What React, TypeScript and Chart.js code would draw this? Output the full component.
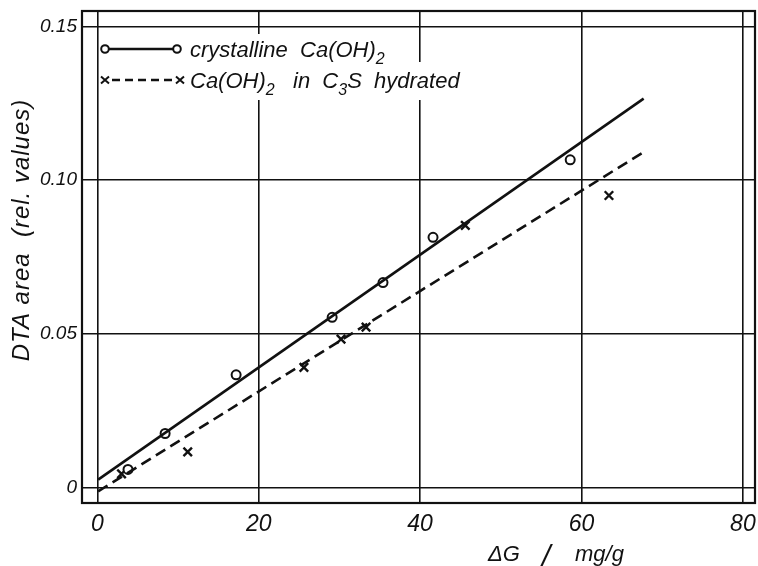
import React, { useEffect, useRef } from "react";
import { Chart, registerables } from "chart.js";
Chart.register(...registerables);

// data
const crystallineX = [3.8, 8.4, 17.2, 29.1, 35.4, 41.6, 58.6];
const crystallineY = [0.0059, 0.0176, 0.0367, 0.0554, 0.0667, 0.0814, 0.1066];
const hydratedX = [3.0, 11.2, 25.6, 30.2, 33.3, 45.6, 63.4];
const hydratedY = [0.0045, 0.0116, 0.0391, 0.0483, 0.0522, 0.0853, 0.095];
const crystallineFitX = [0.1, 67.7];
const crystallineFitY = [0.0026, 0.1265];
const hydratedFitX = [0.1, 67.8];
const hydratedFitY = [-0.0012, 0.1093];
const xTicks = [0, 20, 40, 60, 80];
const xTickLabels = ["0", "20", "40", "60", "80"];
const yTicks = [0, 0.05, 0.1, 0.15];
const yTickLabels = ["0", "0.05", "0.10", "0.15"];

const FONT = "'Liberation Sans', Arial, sans-serif";
const INK = "#111";

type Seg = { t: string; sub?: boolean };

function drawRich(ctx: CanvasRenderingContext2D, segs: Seg[], x: number, y: number, size: number) {
  let cx = x;
  for (const s of segs) {
    if (s.sub) {
      ctx.font = `italic ${Math.round(size * 0.72)}px ${FONT}`;
      ctx.fillText(s.t, cx, y + size * 0.3);
    } else {
      ctx.font = `italic ${size}px ${FONT}`;
      ctx.fillText(s.t, cx, y);
    }
    cx += ctx.measureText(s.t).width;
  }
}

const decor = {
  id: "decor",
  afterDraw(chart: any) {
    const ctx: CanvasRenderingContext2D = chart.ctx;
    const a = chart.chartArea;
    ctx.save();
    // frame
    ctx.strokeStyle = INK;
    ctx.lineWidth = 2.2;
    ctx.strokeRect(a.left, a.top, a.right - a.left, a.bottom - a.top);

    // legend background
    ctx.fillStyle = "#fff";
    ctx.fillRect(100, 34, 302, 28);
    ctx.fillRect(100, 62, 372, 38);

    ctx.fillStyle = INK;
    ctx.strokeStyle = INK;
    // row 1
    const r1 = 49;
    ctx.lineWidth = 2.5;
    ctx.setLineDash([]);
    ctx.beginPath();
    ctx.moveTo(109, r1);
    ctx.lineTo(173, r1);
    ctx.stroke();
    ctx.lineWidth = 2;
    for (const px of [105, 177]) {
      ctx.beginPath();
      ctx.arc(px, r1, 3.8, 0, Math.PI * 2);
      ctx.fillStyle = "#fff";
      ctx.fill();
      ctx.stroke();
    }
    ctx.fillStyle = INK;
    ctx.textBaseline = "alphabetic";
    ctx.textAlign = "left";
    drawRich(ctx, [{ t: "crystalline  Ca(OH)" }, { t: "2", sub: true }], 190, 57, 22);

    // row 2
    const r2 = 80;
    ctx.lineWidth = 2.5;
    ctx.setLineDash([8, 5]);
    ctx.beginPath();
    ctx.moveTo(112, r2);
    ctx.lineTo(174, r2);
    ctx.stroke();
    ctx.setLineDash([]);
    ctx.lineWidth = 2;
    for (const px of [105, 180]) {
      ctx.beginPath();
      ctx.moveTo(px - 4, r2 - 3.5);
      ctx.lineTo(px + 4, r2 + 3.5);
      ctx.moveTo(px + 4, r2 - 3.5);
      ctx.lineTo(px - 4, r2 + 3.5);
      ctx.stroke();
    }
    drawRich(
      ctx,
      [{ t: "Ca(OH)" }, { t: "2", sub: true }, { t: "   in  C" }, { t: "3", sub: true }, { t: "S  hydrated" }],
      190,
      88,
      22
    );

    // x title
    ctx.font = `italic 22px ${FONT}`;
    ctx.fillText("\u0394G", 488, 561);
    ctx.font = `italic 30px ${FONT}`;
    ctx.fillText("/", 542, 566);
    ctx.font = `italic 22px ${FONT}`;
    ctx.fillText("mg/g", 575, 561);

    // y title
    ctx.translate(22, 230);
    ctx.rotate(-Math.PI / 2);
    ctx.textAlign = "center";
    ctx.textBaseline = "middle";
    ctx.font = `italic 24px ${FONT}`;
    try {
      (ctx as any).letterSpacing = "1px";
    } catch (e) {}
    ctx.fillText("DTA area  (rel. values)", 0, 0);
    ctx.restore();
  },
};

export default function App() {
  const ref = useRef<HTMLCanvasElement | null>(null);
  useEffect(() => {
    if (!ref.current) return;
    const chart = new Chart(ref.current, {
      type: "scatter",
      data: {
        datasets: [
          {
            type: "line",
            label: "fit crystalline",
            data: crystallineFitX.map((x, i) => ({ x, y: crystallineFitY[i] })),
            borderColor: INK,
            borderWidth: 2.6,
            pointRadius: 0,
            fill: false,
          },
          {
            type: "line",
            label: "fit hydrated",
            data: hydratedFitX.map((x, i) => ({ x, y: hydratedFitY[i] })),
            borderColor: INK,
            borderWidth: 2.6,
            borderDash: [11, 6],
            pointRadius: 0,
            fill: false,
          },
          {
            label: "crystalline Ca(OH)₂",
            data: crystallineX.map((x, i) => ({ x, y: crystallineY[i] })),
            pointStyle: "circle",
            pointRadius: 4.5,
            borderWidth: 2,
            borderColor: INK,
            backgroundColor: "#fff",
          },
          {
            label: "Ca(OH)₂ in C₃S hydrated",
            data: hydratedX.map((x, i) => ({ x, y: hydratedY[i] })),
            pointStyle: "crossRot",
            pointRadius: 6,
            borderWidth: 2.4,
            borderColor: INK,
            backgroundColor: INK,
          },
        ],
      },
      options: {
        responsive: false,
        animation: false,
        devicePixelRatio: 1,
        layout: { autoPadding: false, padding: { top: 11, right: 3, left: 0, bottom: 0 } },
        plugins: { legend: { display: false }, tooltip: { enabled: false }, title: { display: false } },
        scales: {
          x: {
            type: "linear",
            min: -1.9,
            max: 81.5,
            afterBuildTicks: (s: any) => {
              s.ticks = xTicks.map((v) => ({ value: v }));
            },
            afterFit: (s: any) => {
              s.height = 63;
              s.paddingLeft = 0;
              s.paddingRight = 0;
            },
            grid: { color: INK, lineWidth: 1.6, drawTicks: false },
            border: { display: false },
            ticks: {
              padding: 8,
              color: INK,
              font: { family: FONT, size: 23, style: "italic" },
              maxRotation: 0,
              callback: (_v: any, i: number) => xTickLabels[i],
            },
          },
          y: {
            type: "linear",
            min: -0.005,
            max: 0.155,
            afterBuildTicks: (s: any) => {
              s.ticks = yTicks.map((v) => ({ value: v }));
            },
            afterFit: (s: any) => {
              s.width = 82;
              s.paddingTop = 0;
              s.paddingBottom = 0;
            },
            grid: { color: INK, lineWidth: 1.6, drawTicks: false },
            border: { display: false },
            ticks: {
              padding: 5,
              color: INK,
              font: { family: FONT, size: 19, style: "italic" },
              callback: (_v: any, i: number) => yTickLabels[i],
            },
          },
        },
      },
      plugins: [decor],
    } as any);
    return () => chart.destroy();
  }, []);
  return (
    <div style={{ position: "fixed", left: 0, top: 0, width: 758, height: 566, background: "#fff" }}>
      <canvas ref={ref} width={758} height={566} style={{ display: "block", width: 758, height: 566 }} />
    </div>
  );
}
